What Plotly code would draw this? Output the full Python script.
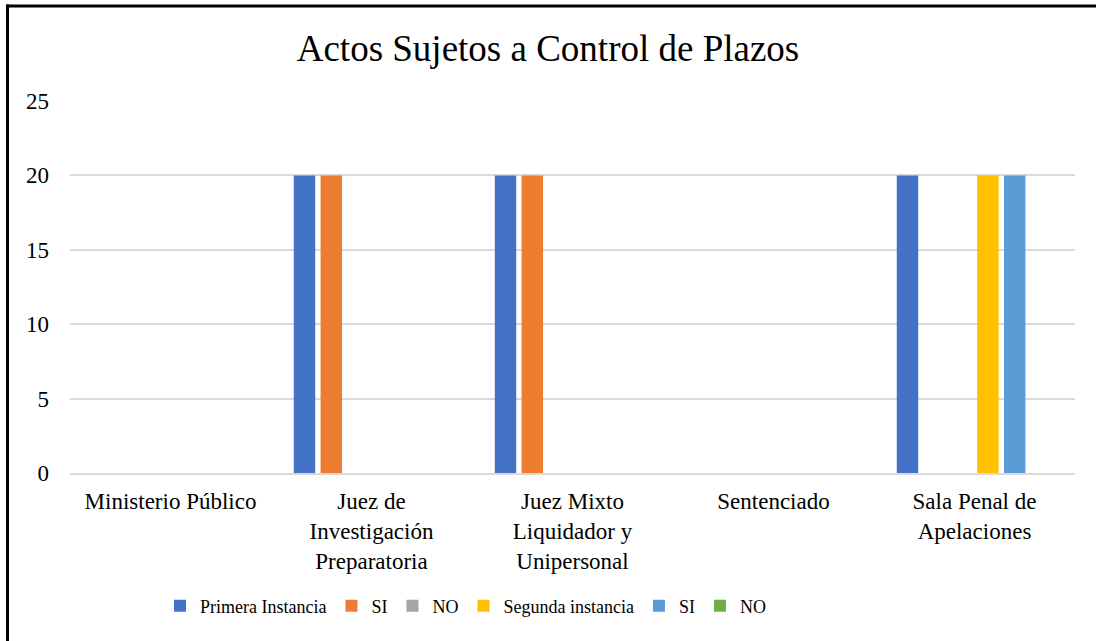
import plotly.graph_objects as go

categories = ["Ministerio Público", "Juez de<br>Investigación<br>Preparatoria",
              "Juez Mixto<br>Liquidador y<br>Unipersonal", "Sentenciado",
              "Sala Penal de<br>Apelaciones"]
series_names = ["Primera Instancia", "SI", "NO", "Segunda instancia", "SI", "NO"]
primera = [0, 20, 20, 0, 20]
si_1 = [0, 20, 20, 0, 0]
no_1 = [0, 0, 0, 0, 0]
segunda = [0, 0, 0, 0, 20]
si_2 = [0, 0, 0, 0, 20]
no_2 = [0, 0, 0, 0, 0]
colors = ["#4472C4", "#ED7D31", "#A5A5A5", "#FFC000", "#5B9BD5", "#70AD47"]
y_ticks = [0, 5, 10, 15, 20, 25]

font = "Liberation Serif, Times New Roman, serif"

fig = go.Figure()
for name, vals, col in zip(series_names, [primera, si_1, no_1, segunda, si_2, no_2], colors):
    fig.add_trace(go.Bar(x=categories, y=vals, name=name, marker_color=col,
                         marker_line_width=0))

W, H = 1096, 641
ml, mr, mt, mb = 70, 21, 101, 168
pw, ph = W - ml - mr, H - mt - mb

def px_x(p):
    return (p - ml) / pw

def px_y(p):
    return (H - mb - p) / ph

fig.update_layout(
    width=W, height=H,
    margin=dict(l=ml, r=mr, t=mt, b=mb),
    paper_bgcolor="white", plot_bgcolor="white",
    font=dict(family=font, size=23, color="black"),
    title=dict(text="Actos Sujetos a Control de Plazos", x=0.5, xanchor="center",
               y=1 - 48 / H, yanchor="middle", font=dict(size=37)),
    barmode="group", bargap=0.2, bargroupgap=0.2,
    showlegend=True,
    legend=dict(orientation="h", x=px_x(160), xanchor="left", y=px_y(606), yanchor="middle",
                font=dict(size=18), itemwidth=30, traceorder="normal"),
    xaxis=dict(showgrid=False, showline=True, linecolor="#D9D9D9", linewidth=1.5,
               ticks="", ticklabelstandoff=7, tickfont=dict(size=23)),
    yaxis=dict(range=[0, 25], tickvals=y_ticks, showgrid=True, gridcolor="#D9D9D9",
               gridwidth=1.5, zeroline=False, showline=False, ticks="",
               ticklabelstandoff=20, tickfont=dict(size=23)),
    shapes=[
        dict(type="line", xref="paper", yref="paper", x0=px_x(6), x1=px_x(W + 2),
             y0=px_y(6), y1=px_y(6), line=dict(color="black", width=3)),
        dict(type="line", xref="paper", yref="paper", x0=px_x(7.5), x1=px_x(7.5),
             y0=px_y(4.5), y1=px_y(H + 2), line=dict(color="black", width=3)),
    ],
)

fig.write_html("out.html", config={"displayModeBar": False},
               post_script="document.body.style.margin='0';")
